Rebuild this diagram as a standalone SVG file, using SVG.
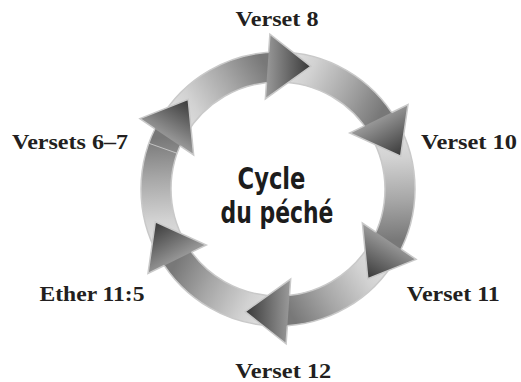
<svg xmlns="http://www.w3.org/2000/svg" xmlns:xlink="http://www.w3.org/1999/xlink" width="521" height="382" viewBox="0 0 521 382">
<style>
.lbl{font-family:"Liberation Serif","Times New Roman",serif;font-weight:bold;font-size:21px;fill:#231f20;text-anchor:middle}
.title{font-family:"Liberation Sans Narrow","DejaVu Sans Condensed","Liberation Sans",sans-serif;font-stretch:condensed;font-weight:bold;font-size:30px;fill:#1c1c1c;text-anchor:middle}
</style>
<defs>
<linearGradient id="gBody" gradientUnits="userSpaceOnUse" x1="172.35" y1="128" x2="267.4" y2="67.5">
<stop offset="0" stop-color="#e4e4e4"/>
<stop offset="0.27" stop-color="#d2d2d2"/>
<stop offset="0.65" stop-color="#a6a6a6"/>
<stop offset="1" stop-color="#787878"/>
</linearGradient>
<linearGradient id="gHead" gradientUnits="userSpaceOnUse" x1="267.6" y1="66.5" x2="310.9" y2="66.3">
<stop offset="0" stop-color="#969696"/>
<stop offset="1" stop-color="#383838"/>
</linearGradient>
<path id="body" d="M159.36,120.5 A137,137 0 0 1 278,52 L278,82 A107,107 0 0 0 185.34,135.5 Z" fill="url(#gBody)" stroke="#c9c9c9" stroke-width="1.5"/>
<g id="head">
<path d="M269.89,34.21 L310.87,66.33 L265.34,98.89 Z" fill="url(#gHead)"/>
<path d="M268.62,52.32 L269.89,34.21 L310.87,66.33 L265.34,98.89 L266.48,82.62" fill="none" stroke="#c9c9c9" stroke-width="1.5" stroke-linejoin="miter"/>
</g>
</defs>
<rect width="521" height="382" fill="#ffffff"/>
<g id="connectors">
<g id="arrow-bodies">
<use href="#body"/>
<use href="#body" transform="rotate(60 278 189)"/>
<use href="#body" transform="rotate(120 278 189)"/>
<use href="#body" transform="rotate(180 278 189)"/>
<use href="#body" transform="rotate(240 278 189)"/>
<use href="#body" transform="rotate(300 278 189)"/>
</g>
<line x1="177.14" y1="153.28" x2="148.86" y2="143.27" stroke="#d4d4d4" stroke-width="0.8"/>
<g id="arrow-heads">
<use href="#head"/>
<use href="#head" transform="rotate(60 278 189)"/>
<use href="#head" transform="rotate(120 278 189)"/>
<use href="#head" transform="rotate(180 278 189)"/>
<use href="#head" transform="rotate(240 278 189)"/>
<use href="#head" transform="rotate(300 278 189)"/>
</g>
</g>
<g id="n-verset8"><text class="lbl" x="277" y="26" textLength="83" lengthAdjust="spacingAndGlyphs">Verset 8</text></g>
<g id="n-verset10"><text class="lbl" x="469" y="148.5" textLength="96" lengthAdjust="spacingAndGlyphs">Verset 10</text></g>
<g id="n-verset11"><text class="lbl" x="453.3" y="301" textLength="93" lengthAdjust="spacingAndGlyphs">Verset 11</text></g>
<g id="n-verset12"><text class="lbl" x="283.3" y="377.5" textLength="96" lengthAdjust="spacingAndGlyphs">Verset 12</text></g>
<g id="n-ether"><text class="lbl" x="92" y="301" textLength="105" lengthAdjust="spacingAndGlyphs">Ether 11:5</text></g>
<g id="n-versets67"><text class="lbl" x="70" y="148.5" textLength="116" lengthAdjust="spacingAndGlyphs">Versets 6–7</text></g>
<g id="center-title">
<text class="title" x="271.5" y="188.5" textLength="68" lengthAdjust="spacingAndGlyphs">Cycle</text>
<text class="title" x="277" y="223" textLength="113" lengthAdjust="spacingAndGlyphs">du péché</text>
</g>
</svg>
